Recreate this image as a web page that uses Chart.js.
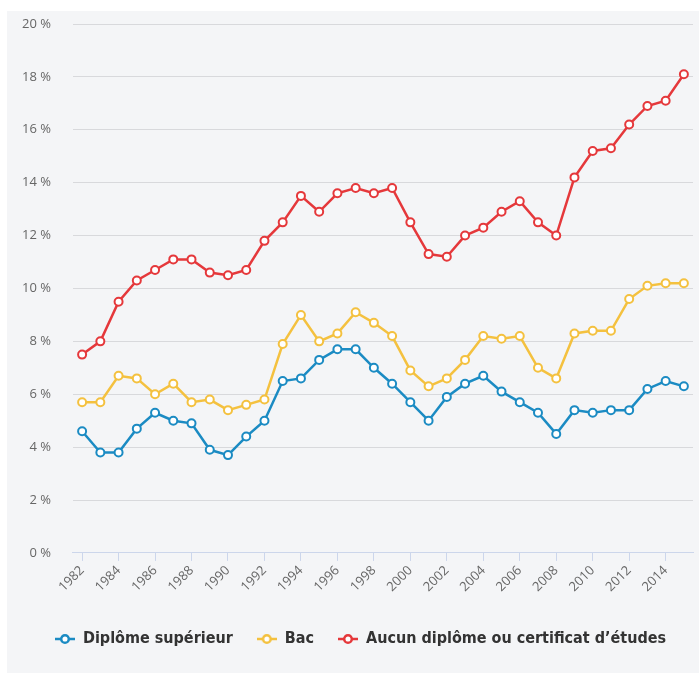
<!DOCTYPE html>
<html>
<head>
<meta charset="utf-8">
<script src="https://cdn.jsdelivr.net/npm/chart.js@4.4.1/dist/chart.umd.min.js"></script>
<style>
  html, body { margin: 0; padding: 0; background: #fff; }
  #wrap { position: absolute; left: 7px; top: 11px; width: 692px; height: 662px; background: #f4f5f7; }
</style>
</head>
<body>
<div id="wrap"><canvas id="chomage"></canvas></div>
<script>
// Taux de chômage selon le diplôme, 1982-2015 (en %)
var years = [];
for (var y = 1982; y <= 2015; y++) years.push(String(y));

var superieur = [4.6, 3.8, 3.8, 4.7, 5.3, 5.0, 4.9, 3.9, 3.7, 4.4, 5.0, 6.5, 6.6, 7.3, 7.7, 7.7, 7.0,
                 6.4, 5.7, 5.0, 5.9, 6.4, 6.7, 6.1, 5.7, 5.3, 4.5, 5.4, 5.3, 5.4, 5.4, 6.2, 6.5, 6.3];
var bac = [5.7, 5.7, 6.7, 6.6, 6.0, 6.4, 5.7, 5.8, 5.4, 5.6, 5.8, 7.9, 9.0, 8.0, 8.3, 9.1, 8.7,
           8.2, 6.9, 6.3, 6.6, 7.3, 8.2, 8.1, 8.2, 7.0, 6.6, 8.3, 8.4, 8.4, 9.6, 10.1, 10.2, 10.2];
var aucun = [7.5, 8.0, 9.5, 10.3, 10.7, 11.1, 11.1, 10.6, 10.5, 10.7, 11.8, 12.5, 13.5, 12.9, 13.6, 13.8, 13.6,
             13.8, 12.5, 11.3, 11.2, 12.0, 12.3, 12.9, 13.3, 12.5, 12.0, 14.2, 15.2, 15.3, 16.2, 16.9, 17.1, 18.1];

var seriesNames = ['Diplôme supérieur', 'Bac', 'Aucun diplôme ou certificat d\u2019études'];
var seriesColors = ['#1b8bc3', '#f4c13f', '#e5383b'];

// petit symbole de légende : trait + rond
function legendSymbol(color) {
  var c = document.createElement('canvas');
  c.width = 20; c.height = 12;
  var ctx = c.getContext('2d');
  ctx.strokeStyle = color;
  ctx.lineWidth = 2.5;
  ctx.beginPath(); ctx.moveTo(0, 6); ctx.lineTo(20, 6); ctx.stroke();
  ctx.fillStyle = '#fff';
  ctx.beginPath(); ctx.arc(10, 6, 3.8, 0, Math.PI * 2); ctx.fill(); ctx.stroke();
  return c;
}

function makeSet(i, data) {
  return {
    label: seriesNames[i],
    data: data,
    borderColor: seriesColors[i],
    backgroundColor: '#fff',
    borderWidth: 2.5,
    pointRadius: 4,
    pointBorderWidth: 2,
    pointBackgroundColor: '#fff',
    pointBorderColor: seriesColors[i],
    pointStyle: 'circle',
    tension: 0
  };
}

var ctx = document.getElementById('chomage').getContext('2d');
new Chart(ctx, {
  type: 'line',
  data: {
    labels: years,
    datasets: [makeSet(0, superieur), makeSet(1, bac), makeSet(2, aucun)]
  },
  options: {
    responsive: true,
    maintainAspectRatio: false,
    animation: false,
    layout: { padding: { left: 15, right: 0, top: 13, bottom: 16 } },
    plugins: {
      tooltip: { enabled: false },
      legend: {
        position: 'bottom',
        align: 'center',
        labels: {
          usePointStyle: true,
          pointStyleWidth: 20,
          padding: 24,
          color: '#333',
          font: { family: 'DejaVu Sans Condensed', size: 16, weight: 'bold' },
          generateLabels: function (chart) {
            return chart.data.datasets.map(function (ds, i) {
              return {
                text: ds.label,
                datasetIndex: i,
                fontColor: '#333',
                pointStyle: legendSymbol(seriesColors[i]),
                lineWidth: 0,
                strokeStyle: 'transparent',
                fillStyle: 'transparent'
              };
            });
          }
        }
      }
    },
    scales: {
      x: {
        offset: true,
        afterBuildTicks: function (axis) {
          axis.ticks = axis.ticks.filter(function (t) { return t.value % 2 === 0; });
        },
        afterFit: function (axis) {
          axis.paddingLeft = 0;
          axis.paddingRight = 0;
          axis.height += 10;
        },
        grid: { drawOnChartArea: false, drawTicks: true, tickLength: 8, color: '#ccd6eb', lineWidth: 1 },
        border: { display: true, color: '#ccd6eb', width: 1 },
        ticks: {
          autoSkip: false,
          maxRotation: 45,
          minRotation: 45,
          padding: 2,
          color: '#666',
          font: { family: 'Open Sans', size: 13 }
        }
      },
      y: {
        min: 0,
        max: 20,
        afterFit: function (axis) {
          axis.paddingTop = 0;
          axis.paddingBottom = 0;
          axis.width -= axis.options.ticks.padding;
        },
        grid: { color: '#d8d9dc', lineWidth: 1, drawTicks: false },
        border: { display: false },
        ticks: {
          stepSize: 2,
          padding: 22,
          color: '#666',
          font: { family: 'Open Sans', size: 13 },
          callback: function (v) { return v + ' %'; }
        }
      }
    }
  }
});
</script>
</body>
</html>
